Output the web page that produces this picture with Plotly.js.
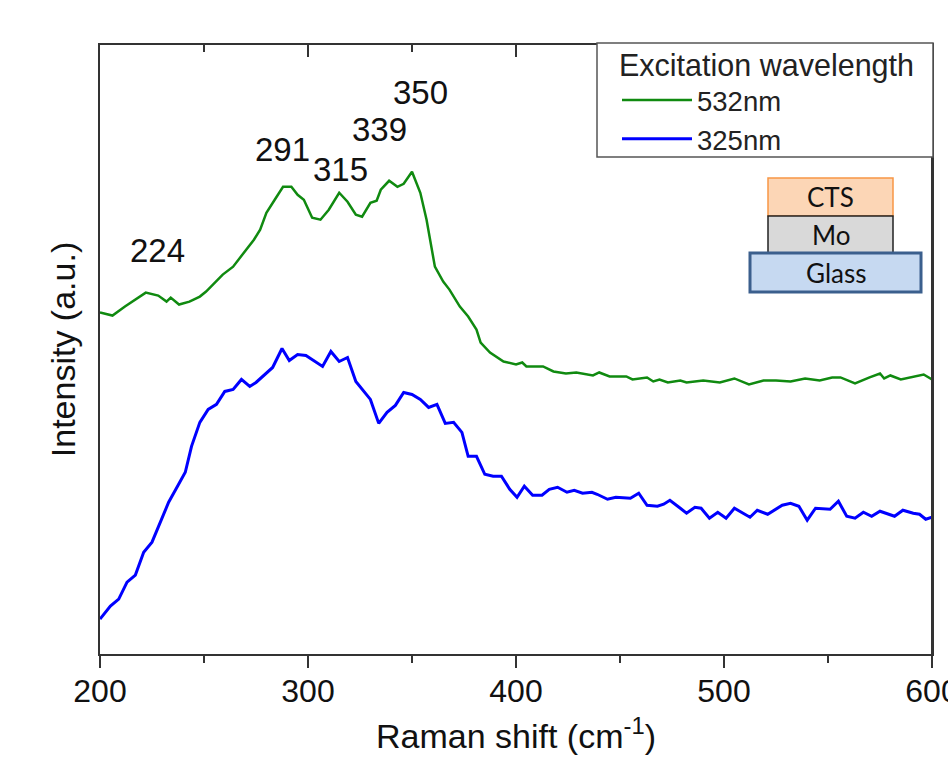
<!DOCTYPE html>
<html>
<head>
<meta charset="utf-8">
<script src="https://cdn.plot.ly/plotly-3.0.1.min.js"></script>
<style>
  html, body { margin: 0; padding: 0; background: #fff; overflow: hidden; }
  #chart { width: 948px; height: 764px; }
</style>
</head>
<body>
<div id="chart"></div>
<script>
// ---- Data (arbitrary intensity units) ----
const shift532 = [200,206,212,217,222,228,232,234,238,243,248,251,259,264,269,274,277,280,284,288,292,295,298,302,306,310,315,319,323,326,330,333,335,339,343,346,350,354,357,361,365,368,373,377,381,383,387.5,394,400,403,405,413,418,424,429,437,440,445,453,456,463,466,469,473,479,482,490,498,505,512,519,525,532,539,546,552,556,563,570,575,577,580,585,591,596,600];
const int532   = [342,339,348,355,362,359,353,357,350,353,358,363,380,388,402,415,425,442,455,468,468,460,455,437,435,445,462,453,440,438,452,454,465,474,468,471,483,462,435,388,373,365,348,338,325,312,302,293,290,292,288,288,283,281,282,279,282,278,278,275,277,273,275,272,274,272,274,272,276,270,274,274,273,276,274,277,277,271,277,281,276,279,275,278,280,275];

const shift325 = [200,205,209,213,217,221,225,229,233,237,241,244,248,252,256,260,264,268,272,275,279,283,287.5,291,295,299,307,311,315,319,323,330,334,338,342,346,350,354,358,362,366,370,374,377,381,385,389,393,397,400.5,404,408,412.5,416,420,424.5,428,432,436.5,439,444,448,455,459,463,468,471,474,479,482,486,489,493,497,501,505,512.5,516,521,528,532,536,540,544,551,555,559,563,567,571,575,582,586,591,594,597,600];
const int325   = [35,48,55,72,79,102,112,132,152,167,182,208,232,245,250,263,265,275,268,272,280,287,306,294,300,299,288,303,293,297,273,255,231,242,249,262,260,255,247,250,231,232,222,198,198,180,178,178,165,157,168,159,159,165,167,162,164,161,162,160,155,157,156,161,149,148,150,154,146,141,147,146,136,142,136,146,137,144,140,149,151,148,134,146,145,153,138,136,142,138,143,138,144,141,140,135,137];

const seriesNames = ['532nm', '325nm'];
const legendTitle = 'Excitation wavelength';
const peakLabels = ['224', '291', '315', '339', '350'];
const layerLabels = ['CTS', 'Mo', 'Glass'];
const xTitle = 'Raman shift (cm<sup>-1</sup>)';
const yTitle = 'Intensity (a.u.)';

// ---- Layout helpers ----
const W = 948, H = 764;
const M = {l: 100, r: 16, t: 45, b: 110};
const PW = W - M.l - M.r, PH = H - M.t - M.b;
const px = x => (x - M.l) / PW;          // pixel -> paper x
const py = y => (M.t + PH - y) / PH;     // pixel -> paper y

const FONT = 'Liberation Sans, Arial, sans-serif';
const AX = '#333';
const X_RANGE = [200, 600], X_MAJOR = 100, X_MINOR = 50;

const traces = [
  {x: shift532, y: int532, name: seriesNames[0], type: 'scatter', mode: 'lines',
   line: {color: '#108a10', width: 2.5}},
  {x: shift325, y: int325, name: seriesNames[1], type: 'scatter', mode: 'lines',
   line: {color: '#0000ff', width: 3}}
];

// peak label positions (data coordinates of the text centres)
const peakPos = [[227.5, 404], [287.5, 505], [315.5, 485], [334.5, 525], [354, 562]];
const annotations = peakLabels.map((t, i) => ({
  x: peakPos[i][0], y: peakPos[i][1], xref: 'x', yref: 'y', text: t, showarrow: false,
  xanchor: 'center', yanchor: 'middle', font: {family: FONT, size: 33, color: '#111'}
}));

// layer-stack inset + legend frame
const boxes = [
  {x0: 768, x1: 893, y0: 178, y1: 216, fill: '#fcd6b6', line: '#f79646', w: 1.5},
  {x0: 768, x1: 893, y0: 216, y1: 253, fill: '#d9d9d9', line: '#222222', w: 1.5},
  {x0: 750, x1: 921, y0: 253, y1: 292, fill: '#c6d9f1', line: '#3b5f8d', w: 3}
];
const shapes = [];
// inward ticks along the top frame (mirror of the x axis ticks)
for (let v = X_RANGE[0] + X_MINOR; v < X_RANGE[1]; v += X_MINOR) {
  const len = (v % X_MAJOR === 0) ? 12 : 7;
  shapes.push({type: 'line', xref: 'x', yref: 'paper', x0: v, x1: v,
               y0: 1, y1: 1 - len / PH, line: {color: AX, width: 2}, layer: 'above'});
}
// right frame line
shapes.push({type: 'line', xref: 'paper', yref: 'paper', x0: 1, x1: 1, y0: 0, y1: 1,
             line: {color: AX, width: 2}, layer: 'above'});
shapes.push({
  type: 'rect', xref: 'paper', yref: 'paper',
  x0: px(597), x1: px(933), y0: py(157), y1: py(43),
  fillcolor: '#fff', line: {color: '#555', width: 1.5}, layer: 'above'
});
boxes.forEach(b => shapes.push({
  type: 'rect', xref: 'paper', yref: 'paper',
  x0: px(b.x0), x1: px(b.x1), y0: py(b.y1), y1: py(b.y0),
  fillcolor: b.fill, line: {color: b.line, width: b.w}, layer: 'above'
}));
boxes.forEach((b, i) => annotations.push({
  xref: 'paper', yref: 'paper', x: px((b.x0 + b.x1) / 2), y: py((b.y0 + b.y1) / 2),
  text: layerLabels[i], showarrow: false, xanchor: 'center', yanchor: 'middle',
  font: {family: 'Lato, Open Sans, sans-serif', size: 26, color: '#111'}
}));

const layout = {
  width: W, height: H,
  margin: M,
  paper_bgcolor: '#fff', plot_bgcolor: '#fff',
  font: {family: FONT, color: '#111'},
  showlegend: true,
  legend: {
    x: px(617), y: py(36), xanchor: 'left', yanchor: 'top',
    bgcolor: 'rgba(0,0,0,0)', borderwidth: 0,
    font: {family: FONT, size: 27.5, color: '#222'},
    title: {text: legendTitle, font: {family: FONT, size: 30.5, color: '#222'}},
    itemwidth: 70, tracegroupgap: 0
  },
  xaxis: {
    range: X_RANGE, showgrid: false, zeroline: false,
    showline: true, mirror: true, linecolor: AX, linewidth: 2,
    ticks: 'outside', ticklen: 12, tickwidth: 2, tickcolor: AX, tick0: 200, dtick: X_MAJOR,
    minor: {ticks: 'outside', ticklen: 7, tickwidth: 2, tickcolor: AX, tick0: 200, dtick: X_MINOR},
    tickfont: {family: FONT, size: 32, color: '#111'},
    ticklabeloverflow: 'allow', ticklabelstandoff: -4,
    title: {text: xTitle, font: {family: FONT, size: 34, color: '#111'}, standoff: 16},
    automargin: false
  },
  yaxis: {
    range: [0, 610], showgrid: false, zeroline: false,
    showline: true, mirror: true, linecolor: AX, linewidth: 2,
    ticks: '', showticklabels: false,
    title: {text: yTitle, font: {family: FONT, size: 34, color: '#111'}, standoff: 12},
    automargin: false
  },
  shapes: shapes,
  annotations: annotations
};

Plotly.newPlot('chart', traces, layout, {staticPlot: true, displayModeBar: false});
</script>
</body>
</html>
